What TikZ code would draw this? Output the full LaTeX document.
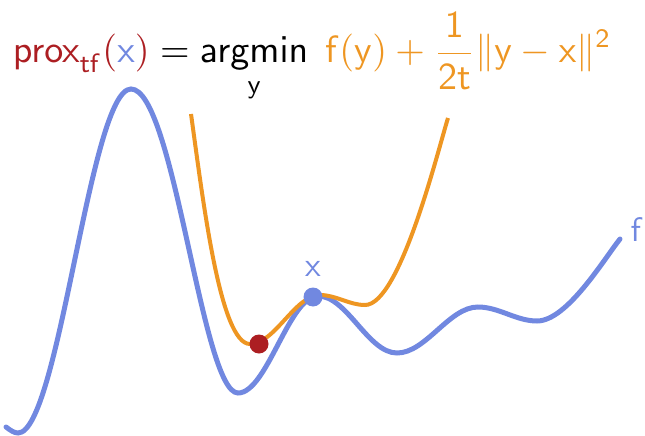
\documentclass[tikz,border=0pt]{standalone}
\usepackage{amsmath}
\usepackage{tikz}
\usetikzlibrary{positioning}

\definecolor{proxred}{RGB}{172,30,34}
\definecolor{fblue}{RGB}{113,136,224}
\definecolor{quadorange}{RGB}{238,150,34}

\begin{document}
\begin{tikzpicture}[x=1pt, y=1pt,
  fcurve/.style={fblue, line width=5pt, line cap=round},
  qcurve/.style={quadorange, line width=4pt},
  dot/.style={circle, inner sep=0pt, minimum size=19pt},
  lbl/.style={text=fblue, inner sep=0pt, scale=3.4}]
\useasboundingbox (0,0) rectangle (645,-436);

\node (formula) [anchor=base west, inner sep=0pt, scale=3.8] at (12,-63)
  {$\displaystyle {\color{proxred}\mathsf{prox}_{\mathsf{tf}}(}{\color{fblue}\mathsf{x}}{\color{proxred})}
   = \operatorname*{\mathsf{argmin}}_{\mathsf{y}}\;
   {\color{quadorange}\mathsf{f}(\mathsf{y}) + \frac{\mathsf{1}}{\mathsf{2t}}\|\mathsf{y}-\mathsf{x}\|^{\mathsf{2}}}$};

\draw[fcurve] (6,-427) .. controls +(4,-3) and +(-4,0) .. (18,-433)
  .. controls +(41,0) and +(-41,0) .. (131,-89)
  .. controls +(43,0) and +(-36,0) .. (238,-393)
  .. controls +(29,0) and +(-29,0) .. (318,-296)
  .. controls +(29,0) and +(-29,0) .. (397,-353)
  .. controls +(29,0) and +(-29,0) .. (478,-307)
  .. controls +(21,0) and +(-21,0) .. (537,-321)
  .. controls +(30,0) and +(-16,-20) .. (620,-239);
\coordinate (fend) at (620,-239);

\draw[qcurve] (191,-114) .. controls +(12,-86) and +(-30,0) .. (250,-344)
  .. controls +(25,0) and +(-25,0) .. (320,-295)
  .. controls +(16,0) and +(-16,0) .. (365,-305)
  .. controls +(35,0) and +(-10,-32) .. (448,-118);

\node (proxpt) [dot, fill=proxred] at (259,-344) {};
\node (xpt) [dot, fill=fblue] at (313,-297) {};
\node (xlbl) [lbl, above=10pt of xpt] {$\mathsf{x}$};
\node (flbl) [lbl, anchor=south west] at (630,-242) {$\mathsf{f}$};
\end{tikzpicture}
\end{document}
